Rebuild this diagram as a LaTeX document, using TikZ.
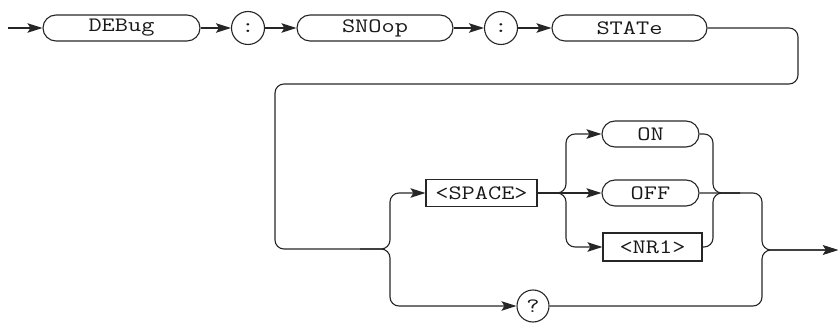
\documentclass[tikz,border=0pt]{standalone}
\usepackage{fontspec}
\newfontfamily\railfont{Latin Modern Mono}[FakeStretch=1.25]
\usetikzlibrary{arrows.meta}

\begin{document}
\begin{tikzpicture}[
  x=1pt, y=-1pt,
  line width=1.1pt, draw=black!85,
  every node/.style={font=\railfont\fontsize{20.5}{23}\selectfont, text=black!90},
  keyword/.style={draw, rounded corners=13pt, minimum height=26pt, inner sep=0pt},
  param/.style={draw, rectangle, minimum height=27pt, inner sep=0pt},
  sep/.style={draw, circle, minimum size=33pt, inner sep=0pt},
  rail/.style={rounded corners=9pt},
  flow/.style={rail, -{Stealth[length=15pt, width=9.5pt, inset=3pt]}}
]
  \useasboundingbox (0,0) rectangle (838,323);

  % Header keywords
  \node[keyword, minimum width=157pt] (debug) at (121.5,28) {DEBug};
  \node[sep] (colonA) at (248,28) {:};
  \node[keyword, minimum width=156pt] (snoop) at (375,28) {SNOop};
  \node[sep] (colonB) at (501,28) {:};
  \node[keyword, minimum width=155pt] (state) at (629.5,28) {STATe};

  % Arguments
  \node[param, minimum width=111pt] (space) at (481.5,193) {<SPACE>};
  \node[keyword, minimum width=97pt] (on) at (650.5,134) {ON};
  \node[keyword, minimum width=97pt] (off) at (650.5,193) {OFF};
  \node[param, minimum width=99pt, minimum height=28pt] (nr1) at (652.5,247) {<NR1>};
  \node[sep, minimum size=32pt] (query) at (533,306) {?};

  % Rail points
  \coordinate (start) at (8,28);
  \coordinate (loop) at (798,84);
  \coordinate (tee) at (360,249);
  \coordinate (fork) at (390,249);
  \coordinate (split) at (566,193);
  \coordinate (join) at (713,193);
  \coordinate (joinout) at (740,193);
  \coordinate (merge) at (762,250);
  \coordinate (stop) at (838,250);

  % Header chain
  \draw[flow] (start) -- (debug);
  \foreach \a/\b in {debug/colonA, colonA/snoop, snoop/colonB, colonB/state}
    \draw[flow] (\a) -- (\b);

  % Return loop and first fork
  \draw[flow] (state.east) -| (loop) -| (275,249) -- (tee) -- (fork) |- (space);
  \draw[flow] (tee) -- (fork) |- (query);

  % Value choices
  \draw[flow] (space.east) -- (split) |- (on);
  \draw[flow] (space) -- (off);
  \draw[flow] (space.east) -- (split) |- (nr1);

  % Merge to exit
  \draw[rail] (on.east) -| (join) -- (joinout);
  \draw[rail] (nr1.east) -| (join) -- (joinout);
  \draw[flow] (off.east) -| (merge) -- (stop);
  \draw[flow] (query.east) -| (merge) -- (stop);
\end{tikzpicture}
\end{document}
